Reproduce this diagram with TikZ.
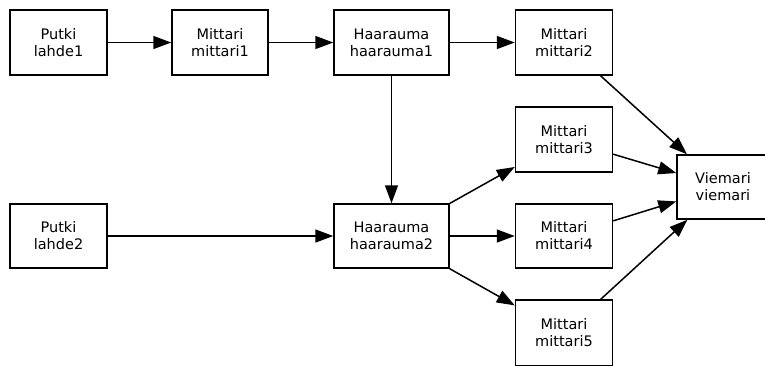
\documentclass[tikz,border=0pt]{standalone}
\usepackage{fontspec}
\setmainfont{DejaVu Sans}
\usetikzlibrary{arrows.meta}
\begin{document}
\begin{tikzpicture}[x=1pt,y=-1pt,
  box/.style={draw, line width=1.5pt, inner sep=0pt, align=center,
    font=\fontsize{14.5}{17}\selectfont},
  conn/.style={line width=1.5pt, -{Triangle[length=18pt,width=13pt]}}]
\useasboundingbox (0,0) rectangle (765,365);
\begin{scope}
\clip (0,0) rectangle (765,365);
\node[box, minimum width=97pt, minimum height=65pt] (lahde1) at (58.5,42.5) {Putki\\lahde1};
\node[box, minimum width=96pt, minimum height=65pt] (mittari1) at (220,42.5) {Mittari\\mittari1};
\node[box, minimum width=115pt, minimum height=65pt] (haarauma1) at (391.5,42.5) {Haarauma\\haarauma1};
\node[box, minimum width=97pt, minimum height=65pt] (mittari2) at (564,42.5) {Mittari\\mittari2};
\node[box, minimum width=97pt, minimum height=65pt] (mittari3) at (564,139.5) {Mittari\\mittari3};
\node[box, minimum width=92pt, minimum height=64pt] (viemari) at (723,187) {Viemari\\viemari};
\node[box, minimum width=97pt, minimum height=64pt] (lahde2) at (58.5,236) {Putki\\lahde2};
\node[box, minimum width=115pt, minimum height=64pt] (haarauma2) at (391.5,236) {Haarauma\\haarauma2};
\node[box, minimum width=97pt, minimum height=64pt] (mittari4) at (564,236) {Mittari\\mittari4};
\node[box, minimum width=97pt, minimum height=66pt] (mittari5) at (564,333) {Mittari\\mittari5};
\draw[conn] (lahde1) -- (mittari1);
\draw[conn] (mittari1) -- (haarauma1);
\draw[conn] (haarauma1) -- (mittari2);
\draw[conn] (haarauma1) -- (haarauma2);
\draw[conn] (lahde2) -- (haarauma2);
\draw[conn] (haarauma2) -- (mittari3);
\draw[conn] (haarauma2) -- (mittari4);
\draw[conn] (haarauma2) -- (mittari5);
\draw[conn] (mittari2) -- (viemari);
\draw[conn] (mittari3) -- (viemari);
\draw[conn] (mittari4) -- (viemari);
\draw[conn] (mittari5) -- (viemari);
\end{scope}
\end{tikzpicture}
\end{document}
